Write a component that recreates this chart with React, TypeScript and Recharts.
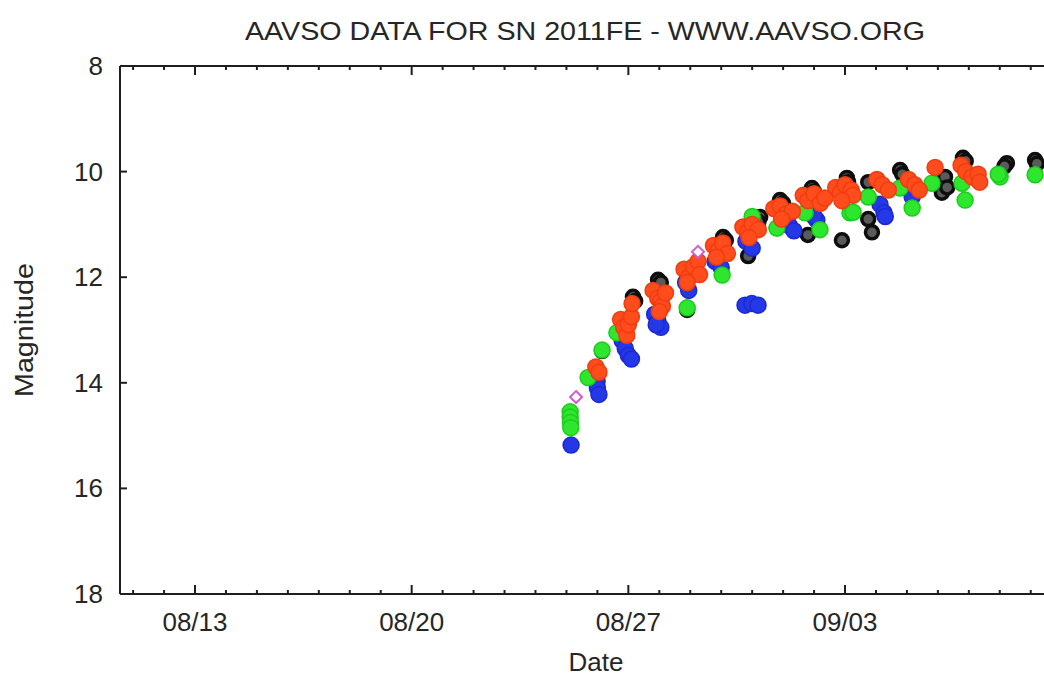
import React from "react";
import { ScatterChart, Scatter, XAxis, YAxis } from "recharts";

// Days counted from 08/00 (so 08/13 = 13, 09/03 = 34)
const dayTicks = [11,12,13,14,15,16,17,18,19,20,21,22,23,24,25,26,27,28,29,30,31,32,33,34,35,36,37,38,39,40];
const majorDays = [13, 20, 27, 34];
const majorLabels = ["08/13", "08/20", "08/27", "09/03"];
const magTicks = [8, 10, 12, 14, 16, 18];

const visData = [
  { x: 26.15, y: 13.4 }, { x: 27.15, y: 12.37 }, { x: 27.22, y: 12.45 }, { x: 27.96, y: 12.05 },
  { x: 28.05, y: 12.1 }, { x: 28.9, y: 12.62 }, { x: 30.06, y: 11.24 }, { x: 30.15, y: 11.3 },
  { x: 31.26, y: 10.86 }, { x: 31.2, y: 10.95 }, { x: 30.87, y: 11.6 }, { x: 31.9, y: 10.54 },
  { x: 32.0, y: 10.6 }, { x: 31.8, y: 11.07 }, { x: 32.93, y: 10.31 }, { x: 33.0, y: 10.38 },
  { x: 32.8, y: 11.2 }, { x: 34.06, y: 10.12 }, { x: 34.1, y: 10.2 }, { x: 33.9, y: 11.3 },
  { x: 34.75, y: 10.2 }, { x: 34.75, y: 10.9 }, { x: 34.87, y: 11.15 }, { x: 35.78, y: 9.97 },
  { x: 35.85, y: 10.05 }, { x: 37.23, y: 10.1 }, { x: 37.13, y: 10.4 }, { x: 37.3, y: 10.3 },
  { x: 37.81, y: 9.74 }, { x: 37.9, y: 9.8 }, { x: 39.23, y: 9.84 }, { x: 39.15, y: 9.9 },
  { x: 40.14, y: 9.78 }, { x: 40.2, y: 9.85 },
];

const bData = [
  { x: 25.15, y: 15.18 }, { x: 25.99, y: 13.97 }, { x: 26.0, y: 14.1 }, { x: 26.05, y: 14.22 },
  { x: 26.8, y: 13.2 }, { x: 26.9, y: 13.35 }, { x: 27.0, y: 13.48 }, { x: 27.1, y: 13.55 },
  { x: 27.85, y: 12.7 }, { x: 27.95, y: 12.82 }, { x: 28.05, y: 12.95 }, { x: 27.9, y: 12.9 },
  { x: 28.85, y: 12.1 }, { x: 28.95, y: 12.25 }, { x: 29.8, y: 11.7 }, { x: 30.0, y: 11.82 },
  { x: 30.8, y: 11.32 }, { x: 31.0, y: 11.45 }, { x: 30.77, y: 12.53 }, { x: 30.99, y: 12.5 },
  { x: 31.19, y: 12.53 }, { x: 32.2, y: 11.02 }, { x: 32.35, y: 11.12 }, { x: 33.09, y: 10.92 },
  { x: 33.0, y: 10.85 }, { x: 35.13, y: 10.62 }, { x: 35.26, y: 10.78 }, { x: 35.3, y: 10.85 },
  { x: 36.17, y: 10.48 },
];

const vData = [
  { x: 25.12, y: 14.55 }, { x: 25.12, y: 14.65 }, { x: 25.13, y: 14.75 }, { x: 25.14, y: 14.85 },
  { x: 25.7, y: 13.9 }, { x: 26.15, y: 13.38 }, { x: 26.63, y: 13.05 }, { x: 28.9, y: 12.58 },
  { x: 30.03, y: 11.96 }, { x: 31.0, y: 10.85 }, { x: 31.8, y: 11.07 }, { x: 32.71, y: 10.78 },
  { x: 33.19, y: 11.1 }, { x: 34.16, y: 10.78 }, { x: 34.26, y: 10.77 }, { x: 34.75, y: 10.48 },
  { x: 35.78, y: 10.31 }, { x: 36.17, y: 10.69 }, { x: 36.81, y: 10.22 }, { x: 37.78, y: 10.22 },
  { x: 37.88, y: 10.54 }, { x: 39.01, y: 10.1 }, { x: 38.95, y: 10.05 }, { x: 40.14, y: 10.06 },
];

const rData = [
  { x: 25.95, y: 13.7 }, { x: 26.05, y: 13.8 }, { x: 26.75, y: 12.8 }, { x: 26.85, y: 12.95 },
  { x: 26.95, y: 13.1 }, { x: 27.0, y: 12.9 }, { x: 27.1, y: 12.75 }, { x: 27.12, y: 12.5 },
  { x: 27.8, y: 12.25 }, { x: 27.95, y: 12.4 }, { x: 28.05, y: 12.45 }, { x: 28.1, y: 12.55 },
  { x: 28.0, y: 12.65 }, { x: 28.2, y: 12.3 }, { x: 28.8, y: 11.85 }, { x: 28.95, y: 12.0 },
  { x: 29.1, y: 11.8 }, { x: 29.25, y: 11.7 }, { x: 29.3, y: 11.95 }, { x: 28.9, y: 12.1 },
  { x: 29.75, y: 11.4 }, { x: 29.9, y: 11.5 }, { x: 30.05, y: 11.35 }, { x: 30.2, y: 11.55 },
  { x: 29.85, y: 11.62 }, { x: 30.7, y: 11.05 }, { x: 30.85, y: 11.15 }, { x: 31.0, y: 11.0 },
  { x: 31.2, y: 11.1 }, { x: 30.9, y: 11.25 }, { x: 31.7, y: 10.7 }, { x: 31.9, y: 10.65 },
  { x: 32.1, y: 10.8 }, { x: 32.3, y: 10.75 }, { x: 31.95, y: 10.9 }, { x: 32.65, y: 10.45 },
  { x: 32.8, y: 10.55 }, { x: 33.0, y: 10.42 }, { x: 33.2, y: 10.6 }, { x: 33.35, y: 10.5 },
  { x: 33.7, y: 10.3 }, { x: 33.85, y: 10.4 }, { x: 34.0, y: 10.25 }, { x: 34.2, y: 10.35 },
  { x: 34.26, y: 10.45 }, { x: 33.9, y: 10.55 }, { x: 35.03, y: 10.15 }, { x: 35.2, y: 10.25 },
  { x: 35.4, y: 10.35 }, { x: 36.05, y: 10.15 }, { x: 36.25, y: 10.25 }, { x: 36.4, y: 10.35 },
  { x: 36.91, y: 9.92 }, { x: 37.75, y: 9.88 }, { x: 37.9, y: 10.0 }, { x: 38.1, y: 10.1 },
  { x: 38.3, y: 10.05 }, { x: 38.35, y: 10.2 },
];

const otherData = [
  { x: 25.31, y: 14.27 }, { x: 29.25, y: 11.52 },
];

const FONT = '"Liberation Sans", Arial, Helvetica, sans-serif';
const TXT = "#262626";
const AX = "#1e1e1e";

const BottomTick = (props: any) => {
  const { x, y, payload } = props;
  const idx = majorDays.indexOf(payload.value);
  const major = idx >= 0;
  return (
    <g>
      <line x1={x} x2={x} y1={y} y2={y - (major ? 9 : 4)} stroke={AX} strokeWidth={2} />
      {major && (
        <text x={x} y={y + 37} textAnchor="middle" fontSize={26} fontFamily={FONT} fill={TXT}>
          {majorLabels[idx]}
        </text>
      )}
    </g>
  );
};

const TopTick = (props: any) => {
  const { x, y, payload } = props;
  const major = majorDays.indexOf(payload.value) >= 0;
  return <line x1={x} x2={x} y1={y} y2={y + (major ? 9 : 4)} stroke={AX} strokeWidth={2} />;
};

const LeftTick = (props: any) => {
  const { x, y, payload } = props;
  const v = payload.value;
  const inner = v !== 8 && v !== 18;
  return (
    <g>
      {inner && <line x1={x} x2={x + 7} y1={y} y2={y} stroke={AX} strokeWidth={2} />}
      <text x={x - 17} y={y + 9} textAnchor="end" fontSize={26} fontFamily={FONT} fill={TXT}>
        {v}
      </text>
    </g>
  );
};

const visShape = (p: any) => (
  <circle cx={p.cx} cy={p.cy} r={6.5} fill="#5a5a5a" stroke="#0e0e0e" strokeWidth={3.5} />
);
const bShape = (p: any) => (
  <circle cx={p.cx} cy={p.cy} r={8} fill="#2438e8" stroke="#1a2ad0" strokeWidth={1.5} />
);
const vShape = (p: any) => (
  <circle cx={p.cx} cy={p.cy} r={8} fill="#2ee62e" stroke="#1ccc1c" strokeWidth={1.5} />
);
const rShape = (p: any) => (
  <circle cx={p.cx} cy={p.cy} r={8} fill="#ff4c1c" stroke="#f03c10" strokeWidth={1.5} />
);
const otherShape = (p: any) => (
  <path
    d={`M${p.cx},${p.cy - 6} L${p.cx + 6},${p.cy} L${p.cx},${p.cy + 6} L${p.cx - 6},${p.cy} Z`}
    fill="#fff"
    stroke="#d45ad4"
    strokeWidth={2}
  />
);

export default function App() {
  return (
    <div
      style={{
        position: "absolute",
        left: 0,
        top: 0,
        width: 1044,
        height: 676,
        overflow: "hidden",
        background: "#fff",
      }}
    >
      <ScatterChart width={1062} height={676} margin={{ top: 65, right: 0, bottom: 0, left: 0 }}>
        <XAxis
          xAxisId="t"
          orientation="top"
          type="number"
          dataKey="x"
          domain={[10.577, 41.01]}
          allowDataOverflow
          ticks={dayTicks}
          interval={0}
          height={1}
          tickSize={0}
          tickMargin={0}
          tickLine={false}
          tick={<TopTick />}
          axisLine={{ stroke: AX, strokeWidth: 2 }}
        />
        <XAxis
          xAxisId="b"
          orientation="bottom"
          type="number"
          dataKey="x"
          domain={[10.577, 41.01]}
          allowDataOverflow
          ticks={dayTicks}
          interval={0}
          height={82}
          tickSize={0}
          tickMargin={0}
          tickLine={false}
          tick={<BottomTick />}
          axisLine={{ stroke: AX, strokeWidth: 2 }}
        />
        <YAxis
          yAxisId="l"
          type="number"
          dataKey="y"
          domain={[8, 18]}
          reversed
          allowDataOverflow
          ticks={magTicks}
          interval={0}
          width={120}
          tickSize={0}
          tickMargin={0}
          tickLine={false}
          tick={<LeftTick />}
          axisLine={{ stroke: AX, strokeWidth: 2 }}
        />
        <Scatter xAxisId="b" yAxisId="l" name="Vis" data={visData} shape={visShape} isAnimationActive={false} />
        <Scatter xAxisId="b" yAxisId="l" name="B" data={bData} shape={bShape} isAnimationActive={false} />
        <Scatter xAxisId="b" yAxisId="l" name="V" data={vData} shape={vShape} isAnimationActive={false} />
        <Scatter xAxisId="b" yAxisId="l" name="R" data={rData} shape={rShape} isAnimationActive={false} />
        <Scatter xAxisId="b" yAxisId="l" name="Other" data={otherData} shape={otherShape} isAnimationActive={false} />
      </ScatterChart>
      <svg
        width={1044}
        height={676}
        style={{ position: "absolute", left: 0, top: 0, pointerEvents: "none" }}
      >
        <text
          x={585}
          y={40}
          textAnchor="middle"
          fontSize={26}
          fontFamily={FONT}
          fill={TXT}
          textLength={680}
          lengthAdjust="spacingAndGlyphs"
        >
          AAVSO DATA FOR SN 2011FE - WWW.AAVSO.ORG
        </text>
        <text x={596} y={671} textAnchor="middle" fontSize={26} fontFamily={FONT} fill={TXT}>
          Date
        </text>
        <text
          transform="translate(33,330) rotate(-90)"
          textAnchor="middle"
          fontSize={25}
          fontFamily={FONT}
          fill={TXT}
          textLength={134}
          lengthAdjust="spacingAndGlyphs"
        >
          Magnitude
        </text>
      </svg>
    </div>
  );
}
